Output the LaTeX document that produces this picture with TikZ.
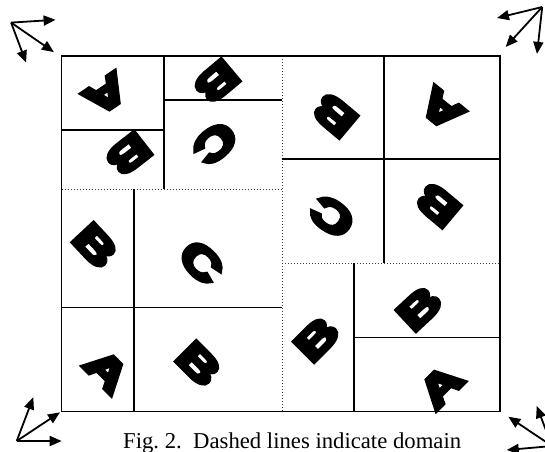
\documentclass[tikz,border=0pt]{standalone}
\usepackage{fontspec}
\setmainfont{Liberation Serif}
\newfontfamily\blockfont[FakeBold=9]{Liberation Sans Bold}
\usetikzlibrary{arrows.meta}
\tikzset{part/.style={line width=1.5pt,draw=black},
  domainline/.style={line width=1pt,dotted,draw=black!75},
  glyph/.style={font=\blockfont\fontsize{42}{42}\selectfont,inner sep=0pt},
  axis/.style={-{Triangle[length=12pt,width=10pt]},line width=1.8pt},
  caption/.style={font=\fontsize{22.7}{22.7}\selectfont,inner sep=0pt}}
\newcommand{\wide}[1]{\scalebox{1.4}[1]{#1}}

\begin{document}
\begin{tikzpicture}[x=1pt,y=-1pt]
 \useasboundingbox (0,0) rectangle (545,451);
 % domain borders
 \draw[domainline] (282,56)--(282,411.7);
 \draw[domainline] (61.7,189)--(282,189);
 \draw[domainline] (282,263)--(500,263);
 % partition
 \draw[part] (164,56)--(164,189); \draw[part] (61.7,130)--(164,130);
 \draw[part] (164,100)--(282,100);
 \draw[part] (134,189)--(134,411.7); \draw[part] (61.7,307.7)--(282,307.7);
 \draw[part] (384,56)--(384,263); \draw[part] (282,159)--(500,159);
 \draw[part] (354,263)--(354,411.7); \draw[part] (354,337.7)--(500,337.7);
 \draw[part] (61.7,56) rectangle (500,411.7);
 % letters
 \node[glyph,rotate=-146] (a1) at (106,94.3) {\wide{A}};
 \node[glyph,rotate=-142] (b1) at (128.7,154.3) {\wide{B}};
 \node[glyph,rotate=-140] (b2) at (216.7,81.7) {\wide{B}};
 \node[glyph,rotate=-140] (c1) at (215,143.3) {\wide{C}};
 \node[glyph,rotate=-47] (b3) at (95.3,245.7) {\wide{B}};
 \node[glyph,rotate=-45] (c2) at (201.3,262.3) {\wide{C}};
 \node[glyph,rotate=-45] (a2) at (107,370.7) {\wide{A}};
 \node[glyph,rotate=-45] (b4) at (198.7,364) {\wide{B}};
 \node[glyph,rotate=140] (b5) at (334.7,115.3) {\wide{B}};
 \node[glyph,rotate=141] (a3) at (441.3,109.3) {\wide{A}};
 \node[glyph,rotate=145] (c3) at (332,216.7) {\wide{C}};
 \node[glyph,rotate=140] (b6) at (437.7,205) {\wide{B}};
 \node[glyph,rotate=45] (b7) at (316.7,339) {\wide{B}};
 \node[glyph,rotate=43] (b8) at (419.3,308.3) {\wide{B}};
 \node[glyph,rotate=45] (a4) at (440.7,386) {\wide{A}};
 % corner frames
 \coordinate (tlo) at (11.1,22.6); \coordinate (tlx) at (55.6,19.8);
 \coordinate (tly) at (53.9,52.1); \coordinate (tlz) at (26.1,62.6);
 \draw[axis] (tlo)--(tlx); \draw[axis] (tlo)--(tly); \draw[axis] (tlo)--(tlz);
 \coordinate (tro) at (542.2,7); \coordinate (trx) at (497,18);
 \coordinate (try) at (505.7,46.9); \coordinate (trz) at (537,53.9);
 \draw[axis] (tro)--(trx); \draw[axis] (tro)--(try); \draw[axis] (tro)--(trz);
 \coordinate (blo) at (16.7,441); \coordinate (blx) at (33.3,397.3);
 \coordinate (bly) at (60,412.3); \coordinate (blz) at (61.7,441);
 \draw[axis] (blo)--(blx); \draw[axis] (blo)--(bly); \draw[axis] (blo)--(blz);
 \coordinate (bro) at (552,446); \coordinate (brx) at (508.3,416.7);
 \coordinate (bry) at (536.7,406); \coordinate (brz) at (506.7,450);
 \draw[axis] (bro)--(brx); \draw[axis] (bro)--(bry); \draw[axis] (bro)--(brz);
 % caption
 \node[caption,anchor=base west] (cap) at (123,448.5) {Fig.~2.\ \ Dashed lines indicate domain};
\end{tikzpicture}
\end{document}
